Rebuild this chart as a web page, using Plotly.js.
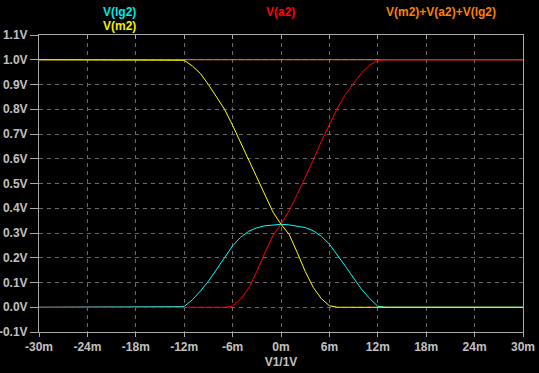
<!DOCTYPE html>
<html>
<head>
<meta charset="utf-8">
<script src="https://cdn.plot.ly/plotly-3.0.1.min.js"></script>
<style>
html,body{margin:0;padding:0;background:#000;}
#chart{width:539px;height:373px;}
</style>
</head>
<body>
<div id="chart"></div>
<script>
// Sweep values of V1 (volts)
const sweepV1 = [-0.030, -0.013, -0.012, -0.011, -0.010, -0.009, -0.008, -0.007, -0.006, -0.005, -0.004, -0.003, -0.002, -0.001, 0.000,
                 0.001, 0.002, 0.003, 0.004, 0.005, 0.006, 0.007, 0.008, 0.009, 0.010, 0.011, 0.012, 0.013, 0.030];
const vLg2 = [0, 0, 0.003, 0.03, 0.065, 0.105, 0.15, 0.2, 0.248, 0.283, 0.307, 0.321, 0.329, 0.333, 0.335,
              0.333, 0.329, 0.322, 0.309, 0.287, 0.255, 0.212, 0.165, 0.118, 0.072, 0.035, 0.004, 0, 0];
const vM2 = [1, 1, 0.998, 0.975, 0.945, 0.9, 0.852, 0.8, 0.735, 0.665, 0.59, 0.52, 0.453, 0.385, 0.335,
             0.295, 0.222, 0.145, 0.08, 0.035, 0.006, 0, 0, 0, 0, 0, 0, 0, 0];
const vA2 = [0, 0, 0, 0, 0, 0, 0, 0, 0.005, 0.033, 0.078, 0.145, 0.22, 0.29, 0.335,
             0.39, 0.455, 0.522, 0.595, 0.67, 0.74, 0.805, 0.86, 0.905, 0.948, 0.978, 0.998, 1, 1];
const vSum = [1, 1, 1, 1, 1, 1, 1, 1, 1, 1, 1, 1, 1, 1, 1,
              1, 1, 1, 1, 1, 1, 1, 1, 1, 1, 1, 1, 1, 1];

const xTickVals = [-0.030, -0.024, -0.018, -0.012, -0.006, 0, 0.006, 0.012, 0.018, 0.024, 0.030];
const xTickText = ['-30m', '-24m', '-18m', '-12m', '-6m', '0m', '6m', '12m', '18m', '24m', '30m'];
const yTickVals = [-0.1, 0, 0.1, 0.2, 0.3, 0.4, 0.5, 0.6, 0.7, 0.8, 0.9, 1.0, 1.1];
const yTickText = ['-0.1V', '0.0V', '0.1V', '0.2V', '0.3V', '0.4V', '0.5V', '0.6V', '0.7V', '0.8V', '0.9V', '1.0V', '1.1V'];

const seriesNames = ['V(m2)+V(a2)+V(lg2)', 'V(lg2)', 'V(a2)', 'V(m2)'];
const seriesColors = ['#ff8000', '#00ffff', '#ff0000', '#ffff00'];
const seriesData = [vSum, vLg2, vA2, vM2];

const traces = seriesData.map((ys, i) => ({
  x: sweepV1, y: ys, type: 'scatter', mode: 'lines', name: seriesNames[i],
  line: {color: seriesColors[i], width: 1}, hoverinfo: 'skip'
}));
// dummy trace to activate the top axis
traces.push({x: [-0.03], y: [0], xaxis: 'x2', yaxis: 'y', mode: 'markers', marker: {opacity: 0}, showlegend: false, hoverinfo: 'skip'});

const tickFont = {family: 'Liberation Sans, Arial, sans-serif', size: 12, color: '#c0c0c0', weight: 'bold'};
const gridCol = '#6a6a6a';
const frameCol = '#a8a8a8';

const layout = {
  width: 539, height: 373,
  paper_bgcolor: '#000', plot_bgcolor: '#000',
  margin: {l: 39, r: 16, t: 35, b: 41},
  showlegend: false,
  xaxis: {
    range: [-0.030, 0.030], tickvals: xTickVals, ticktext: xTickText,
    tickfont: tickFont, ticks: 'outside', ticklen: 4, tickcolor: frameCol,
    showgrid: true, gridcolor: gridCol, griddash: '4px,4px', gridwidth: 1,
    showline: true, linecolor: frameCol, linewidth: 1, mirror: true,
    zeroline: false,
    title: {text: 'V1/1V', font: {family: 'Liberation Sans, Arial, sans-serif', size: 12, color: '#c0c0c0', weight: 'bold'}, standoff: 4}
  },
  xaxis2: {
    range: [-0.030, 0.030], tickvals: xTickVals, showticklabels: false,
    overlaying: 'x', side: 'top', ticks: 'inside', ticklen: 4, tickcolor: frameCol,
    showgrid: false, zeroline: false, showline: false
  },
  yaxis: {
    range: [-0.1, 1.1], tickvals: yTickVals, ticktext: yTickText,
    tickfont: tickFont, ticks: 'outside', ticklen: 8, tickcolor: frameCol,
    showgrid: true, gridcolor: gridCol, griddash: '4px,4px', gridwidth: 1,
    showline: true, linecolor: frameCol, linewidth: 1, mirror: true,
    zeroline: false
  },
  annotations: [
    {text: 'V(lg2)', x: 119, y: 12, color: '#00e8e8'},
    {text: 'V(m2)', x: 119, y: 26, color: '#f0f000'},
    {text: 'V(a2)', x: 280, y: 12, color: '#ff0000'},
    {text: 'V(m2)+V(a2)+V(lg2)', x: 441, y: 12, color: '#ff8000'}
  ].map(a => ({
    text: a.text, xref: 'paper', yref: 'paper',
    x: (a.x - 39) / 484, y: (373 - 41 - a.y) / 297,
    xanchor: 'center', yanchor: 'middle', showarrow: false,
    font: {family: 'Liberation Sans, Arial, sans-serif', size: 12, color: a.color, weight: 'bold'}
  }))
};

Plotly.newPlot('chart', traces, layout, {staticPlot: true, displayModeBar: false});
</script>
</body>
</html>
